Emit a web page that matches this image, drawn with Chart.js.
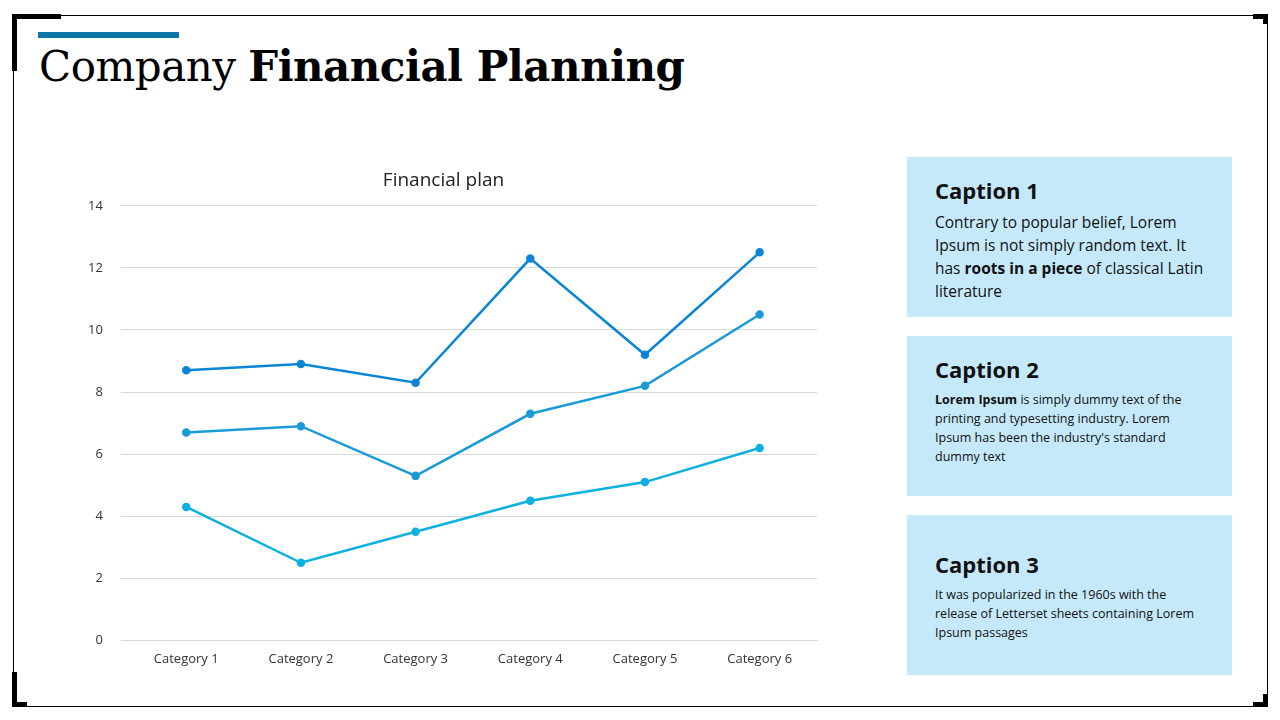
<!DOCTYPE html>
<html><head><meta charset="utf-8">
<script src="https://cdn.jsdelivr.net/npm/chart.js@4"></script>
<style>
body{margin:0;width:1280px;height:720px;background:#fff;position:relative;overflow:hidden;font-family:Calibri,Carlito,"Open Sans",sans-serif}
.frame{position:absolute;left:13px;top:15px;width:1253px;height:690px;border:1px solid #000}
.c{position:absolute;width:44px;height:44px;border:0 solid #000}
.bar{position:absolute;left:38px;top:32px;width:141px;height:6px;background:#0E76A8}
h1{position:absolute;left:39px;top:42px;margin:0;font-family:"DejaVu Serif","Liberation Serif",serif;font-weight:normal;font-size:42px;color:#000;letter-spacing:-0.5px}
.box{position:absolute;left:907px;width:325px;height:160px;background:#C5E9FA;box-sizing:border-box;padding:18px 28px;color:#111;font-family:"Open Sans",sans-serif}
.box h2{margin:0 0 6px 0;font-size:22px;font-weight:bold}
#wrap{position:absolute;left:70px;top:165px;width:760px;height:505px}
</style></head><body>
<div class="frame"></div>
<div class="c" style="left:12px;top:14px;border-left-width:5px;border-top-width:5px;height:52px"></div>
<div class="c" style="right:12px;top:14px;border-right-width:5px;border-top-width:5px;width:10px;height:5px"></div>
<div class="c" style="left:12px;bottom:13px;border-left-width:5px;border-bottom-width:5px;height:30px;width:10px"></div>
<div class="c" style="right:12px;bottom:13px;border-right-width:5px;border-bottom-width:5px;height:8px;width:10px"></div>
<div class="bar"></div>
<h1>Company <b>Financial Planning</b></h1>
<div class="box" style="top:157px"><h2>Caption 1</h2><div style="font-size:15.5px;line-height:23px">Contrary to popular belief, Lorem Ipsum is not simply random text. It has <b>roots in a piece</b> of classical Latin literature</div></div>
<div class="box" style="top:336px"><h2>Caption 2</h2><div style="font-size:12.5px;line-height:19px"><b>Lorem Ipsum</b> is simply dummy text of the printing and typesetting industry. Lorem Ipsum has been the industry's standard dummy text</div></div>
<div class="box" style="top:515px;padding-top:34px"><h2>Caption 3</h2><div style="font-size:12.5px;line-height:19px">It was popularized in the 1960s with the release of Letterset sheets containing Lorem Ipsum passages</div></div>
<div id="wrap"><canvas id="ch"></canvas></div>
<script>
const categories=["Category 1","Category 2","Category 3","Category 4","Category 5","Category 6"];
const series1=[8.7,8.9,8.3,12.3,9.2,12.5];
const series2=[6.7,6.9,5.3,7.3,8.2,10.5];
const series3=[4.3,2.5,3.5,4.5,5.1,6.2];
const colors=["#0B85D5","#1A9BD8","#0DB1E0"];
const font='"Open Sans", sans-serif';
new Chart(document.getElementById('ch'),{type:'line',
data:{labels:categories,datasets:[series1,series2,series3].map((d,i)=>({data:d,borderColor:colors[i],backgroundColor:colors[i],borderWidth:2.5,pointRadius:3,pointHoverRadius:3,tension:0}))},
options:{responsive:true,maintainAspectRatio:false,animation:false,
layout:{padding:{left:0,right:13,bottom:0}},
plugins:{legend:{display:false},title:{display:true,text:"Financial plan",color:"#222",font:{family:font,size:19,weight:'normal'},padding:{top:4,bottom:14}}},
scales:{x:{offset:true,grid:{display:false},border:{color:'#d9d9d9'},ticks:{color:'#333',font:{family:font,size:13}}},
y:{min:0,max:14,ticks:{stepSize:2,color:'#333',font:{family:font,size:13},padding:18},grid:{color:'#d9d9d9'},border:{display:false}}}}});
</script>
</body></html>
